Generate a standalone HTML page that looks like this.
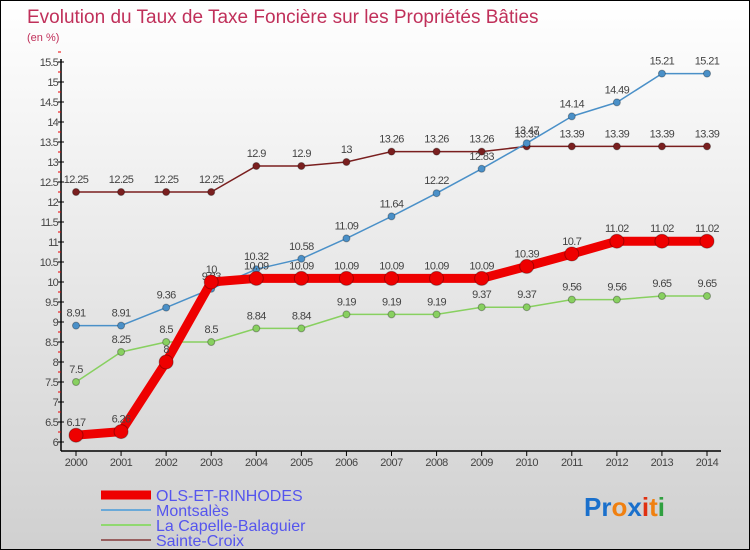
<!DOCTYPE html>
<html><head><meta charset="utf-8"><style>
body{margin:0}
#c{width:748px;height:548px;border:1px solid #000;background:linear-gradient(#fff,#d0d0d0);position:relative;overflow:hidden;font-family:"Liberation Sans",sans-serif}
</style></head><body>
<div id="c">
<svg id="s" width="748" height="548" style="position:absolute;left:0;top:0">
<text x="26" y="22" font-size="19" fill="#c0305a">Evolution du Taux de Taxe Foncière sur les Propriétés Bâties</text>
<text x="26" y="40" font-size="11" fill="#c0305a">(en %)</text>
<g id="axes"></g><g id="series"></g>
<g>
<line x1="100" y1="494" x2="150" y2="494" stroke="#e00" stroke-width="9"/>
<text x="155" y="500" font-size="16" fill="#5555ee">OLS-ET-RINHODES</text>
<line x1="100" y1="509" x2="150" y2="509" stroke="#6aa9d8" stroke-width="2"/>
<text x="155" y="515" font-size="16" fill="#5555ee">Montsalès</text>
<line x1="100" y1="524" x2="150" y2="524" stroke="#90d870" stroke-width="2"/>
<text x="155" y="530" font-size="16" fill="#5555ee">La Capelle-Balaguier</text>
<line x1="100" y1="539" x2="150" y2="539" stroke="#986060" stroke-width="2"/>
<text x="155" y="545" font-size="16" fill="#5555ee">Sainte-Croix</text>
</g>
<g font-size="26" font-weight="bold">
<text x="583" y="515"><tspan fill="#1a70cc">Pr</tspan><tspan fill="#f08010">o</tspan><tspan fill="#1a70cc">x</tspan><tspan fill="#e03010">i</tspan><tspan fill="#f08010">t</tspan><tspan fill="#30a040">i</tspan></text>
</g>
</svg>
</div>
<script>
const years=[2000,2001,2002,2003,2004,2005,2006,2007,2008,2009,2010,2011,2012,2013,2014];
const ols=[6.17,6.26,8,10,10.09,10.09,10.09,10.09,10.09,10.09,10.39,10.7,11.02,11.02,11.02];
const montsales=[8.91,8.91,9.36,9.83,10.32,10.58,11.09,11.64,12.22,12.83,13.47,14.14,14.49,15.21,15.21];
const capelle=[7.5,8.25,8.5,8.5,8.84,8.84,9.19,9.19,9.19,9.37,9.37,9.56,9.56,9.65,9.65];
const croix=[12.25,12.25,12.25,12.25,12.9,12.9,13,13.26,13.26,13.26,13.39,13.39,13.39,13.39,13.39];
const yTicks=[6,6.5,7,7.5,8,8.5,9,9.5,10,10.5,11,11.5,12,12.5,13,13.5,14,14.5,15,15.5];
const NS="http://www.w3.org/2000/svg";
const X=i=>75+i*(706-75)/(years.length-1);
const Y=v=>441-(v-6)*40;
function mk(p,t,a){const e=document.createElementNS(NS,t);for(const k in a)e.setAttribute(k,a[k]);p.appendChild(e);return e;}
const ax=document.getElementById('axes');
const yl=mk(ax,'line',{x1:60,y1:58,x2:60,y2:450,stroke:'#000','stroke-width':1.5});


const xl=mk(ax,'line',{x1:60,y1:450,x2:720,y2:450,stroke:'#000','stroke-width':1.5});


yTicks.forEach(v=>{
 mk(ax,'line',{x1:57,y1:Y(v),x2:63,y2:Y(v),stroke:'#000'});
 mk(ax,'line',{x1:57,y1:Y(v+0.25),x2:60,y2:Y(v+0.25),stroke:'#e00'});
 const t=mk(ax,'text',{x:57,y:Y(v)+4,'font-size':11,fill:'#444','text-anchor':'end','letter-spacing':'-0.8'});
 t.textContent=v;
 
 
});
years.forEach((y,i)=>{
 mk(ax,'line',{x1:X(i),y1:450,x2:X(i),y2:455,stroke:'#000'});
 const t=mk(ax,'text',{x:X(i),y:465,'font-size':11,fill:'#444','text-anchor':'middle','letter-spacing':'-0.5'});
 t.textContent=y;
 
 
});
const sg=document.getElementById('series');
function series(vals,color,w,r,name){
 const g=mk(sg,'g',{});
 
 
 mk(g,'polyline',{points:vals.map((v,i)=>X(i)+','+Y(v)).join(' '),fill:'none',stroke:color,'stroke-width':w,'stroke-linejoin':'round'});
 vals.forEach((v,i)=>{
  const c=mk(g,'circle',{cx:X(i),cy:Y(v),r:r,fill:color,stroke:'rgba(0,0,0,0.3)','stroke-width':1});
  
  
  const t=mk(g,'text',{x:X(i),y:Y(v)-9,'font-size':11,fill:'#444','text-anchor':'middle','letter-spacing':'-0.6'});
  t.textContent=v;
  
  
 });
}
series(croix,'#7a1f1f',1.5,3.5,'series-sainte-croix');
series(capelle,'#88d060',1.5,3.5,'series-capelle');
series(montsales,'#4a90c8',1.5,3.5,'series-montsales');
series(ols,'#ee0000',9,7,'series-ols');
</script>
</body></html>
